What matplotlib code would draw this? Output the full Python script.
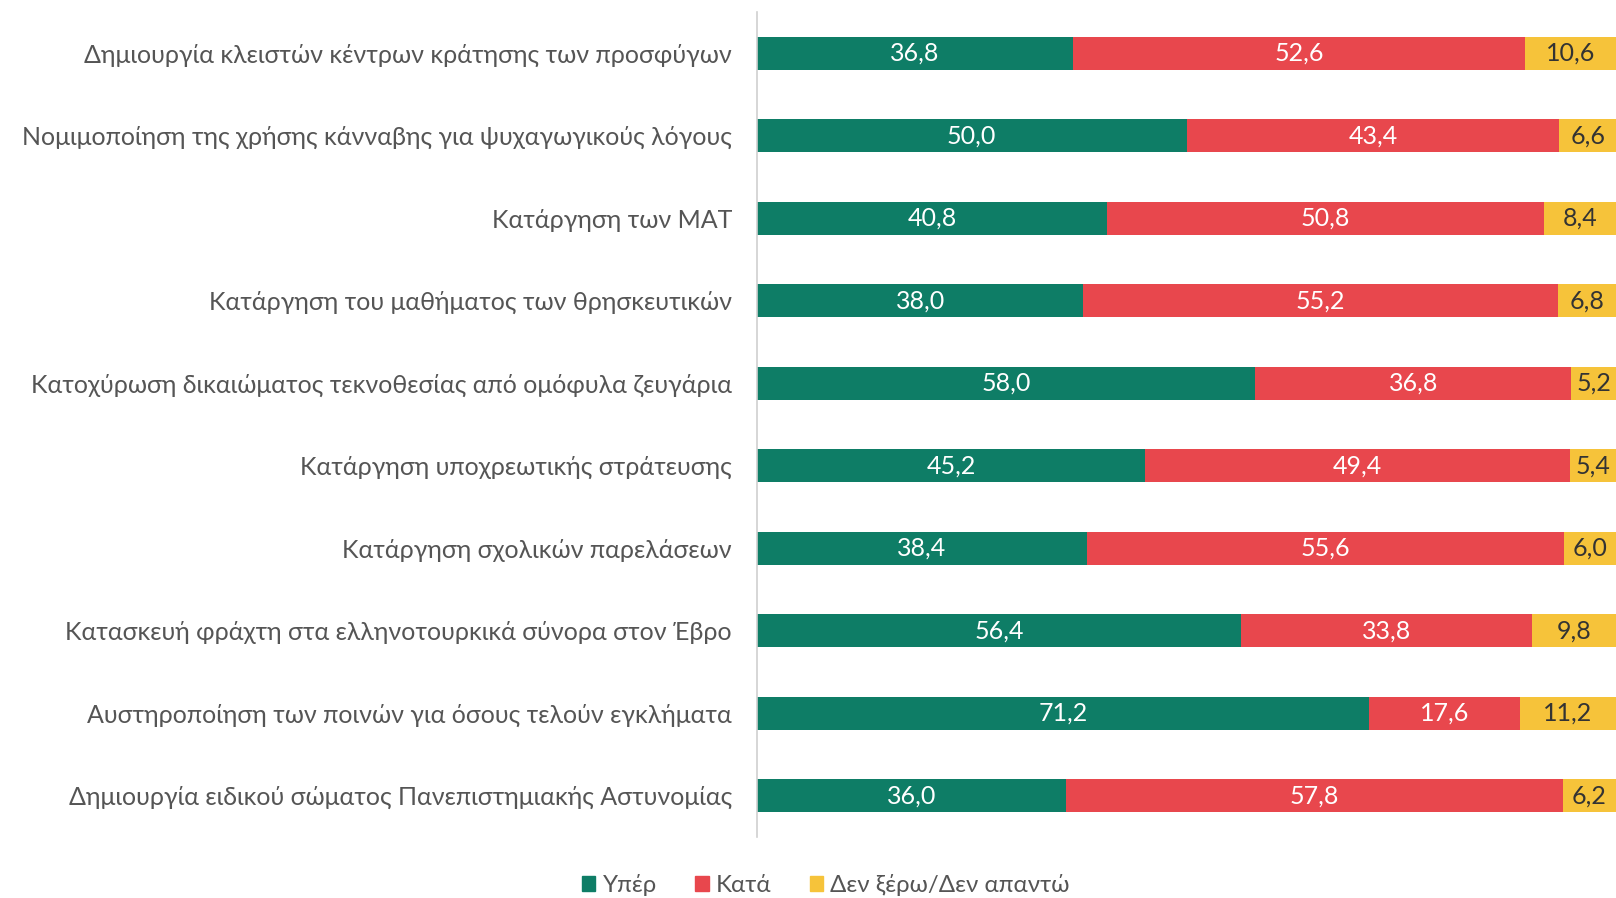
import numpy as np
import matplotlib.pyplot as plt
from matplotlib.patches import Patch

plt.rcParams['font.family'] = ['Lato', 'DejaVu Sans']

categories = [
    'Δημιουργία κλειστών κέντρων κράτησης των προσφύγων',
    'Νομιμοποίηση της χρήσης κάνναβης για ψυχαγωγικούς λόγους',
    'Κατάργηση των ΜΑΤ',
    'Κατάργηση του μαθήματος των θρησκευτικών',
    'Κατοχύρωση δικαιώματος τεκνοθεσίας από ομόφυλα ζευγάρια',
    'Κατάργηση υποχρεωτικής στράτευσης',
    'Κατάργηση σχολικών παρελάσεων',
    'Κατασκευή φράχτη στα ελληνοτουρκικά σύνορα στον Έβρο',
    'Αυστηροποίηση των ποινών για όσους τελούν εγκλήματα',
    'Δημιουργία ειδικού σώματος Πανεπιστημιακής Αστυνομίας',
]
yper = [36.8, 50.0, 40.8, 38.0, 58.0, 45.2, 38.4, 56.4, 71.2, 36.0]
kata = [52.6, 43.4, 50.8, 55.2, 36.8, 49.4, 55.6, 33.8, 17.6, 57.8]
dk = [10.6, 6.6, 8.4, 6.8, 5.2, 5.4, 6.0, 9.8, 11.2, 6.2]
series_names = ['Υπέρ', 'Κατά', 'Δεν ξέρω/Δεν απαντώ']

colors = ['#0e7d66', '#e8474d', '#f6c33a']
text_colors = ['white', 'white', '#333333']

fig = plt.figure(figsize=(16.16, 8.98), dpi=100)
ax = fig.add_axes([757 / 1616, 1 - 837 / 898, 1 - 757 / 1616, (837 - 12) / 898])

y = np.arange(len(categories))
left = np.zeros(len(categories))
for vals, col, tcol in zip([yper, kata, dk], colors, text_colors):
    vals = np.array(vals)
    ax.barh(y, vals, left=left, height=0.4, color=col)
    for yi, l, v in zip(y, left, vals):
        ax.text(l + v / 2, yi, f'{v:.1f}'.replace('.', ','), ha='center', va='center',
                color=tcol, fontsize=18)
    left += vals

ax.set_xlim(0, 100)
ax.set_ylim(len(categories) - 0.5, -0.5)
ax.set_yticks(y)
ax.set_yticklabels(categories, fontsize=18, color='#555555')
ax.tick_params(axis='y', length=0, pad=18)
ax.set_xticks([])
for s in ['top', 'right', 'bottom']:
    ax.spines[s].set_visible(False)
ax.spines['left'].set_color('#d0d0d0')
ax.spines['left'].set_linewidth(1.2)

handles = [Patch(color=c, label=n) for c, n in zip(colors, series_names)]
fig.legend(handles=handles, loc='center', bbox_to_anchor=(826 / 1616, 1 - 885 / 898),
           ncol=3, frameon=False, fontsize=17.3, handlelength=0.55, handleheight=0.55,
           handletextpad=0.3, columnspacing=1.6, labelcolor='#555555')

fig.savefig('out.png', dpi=100)
